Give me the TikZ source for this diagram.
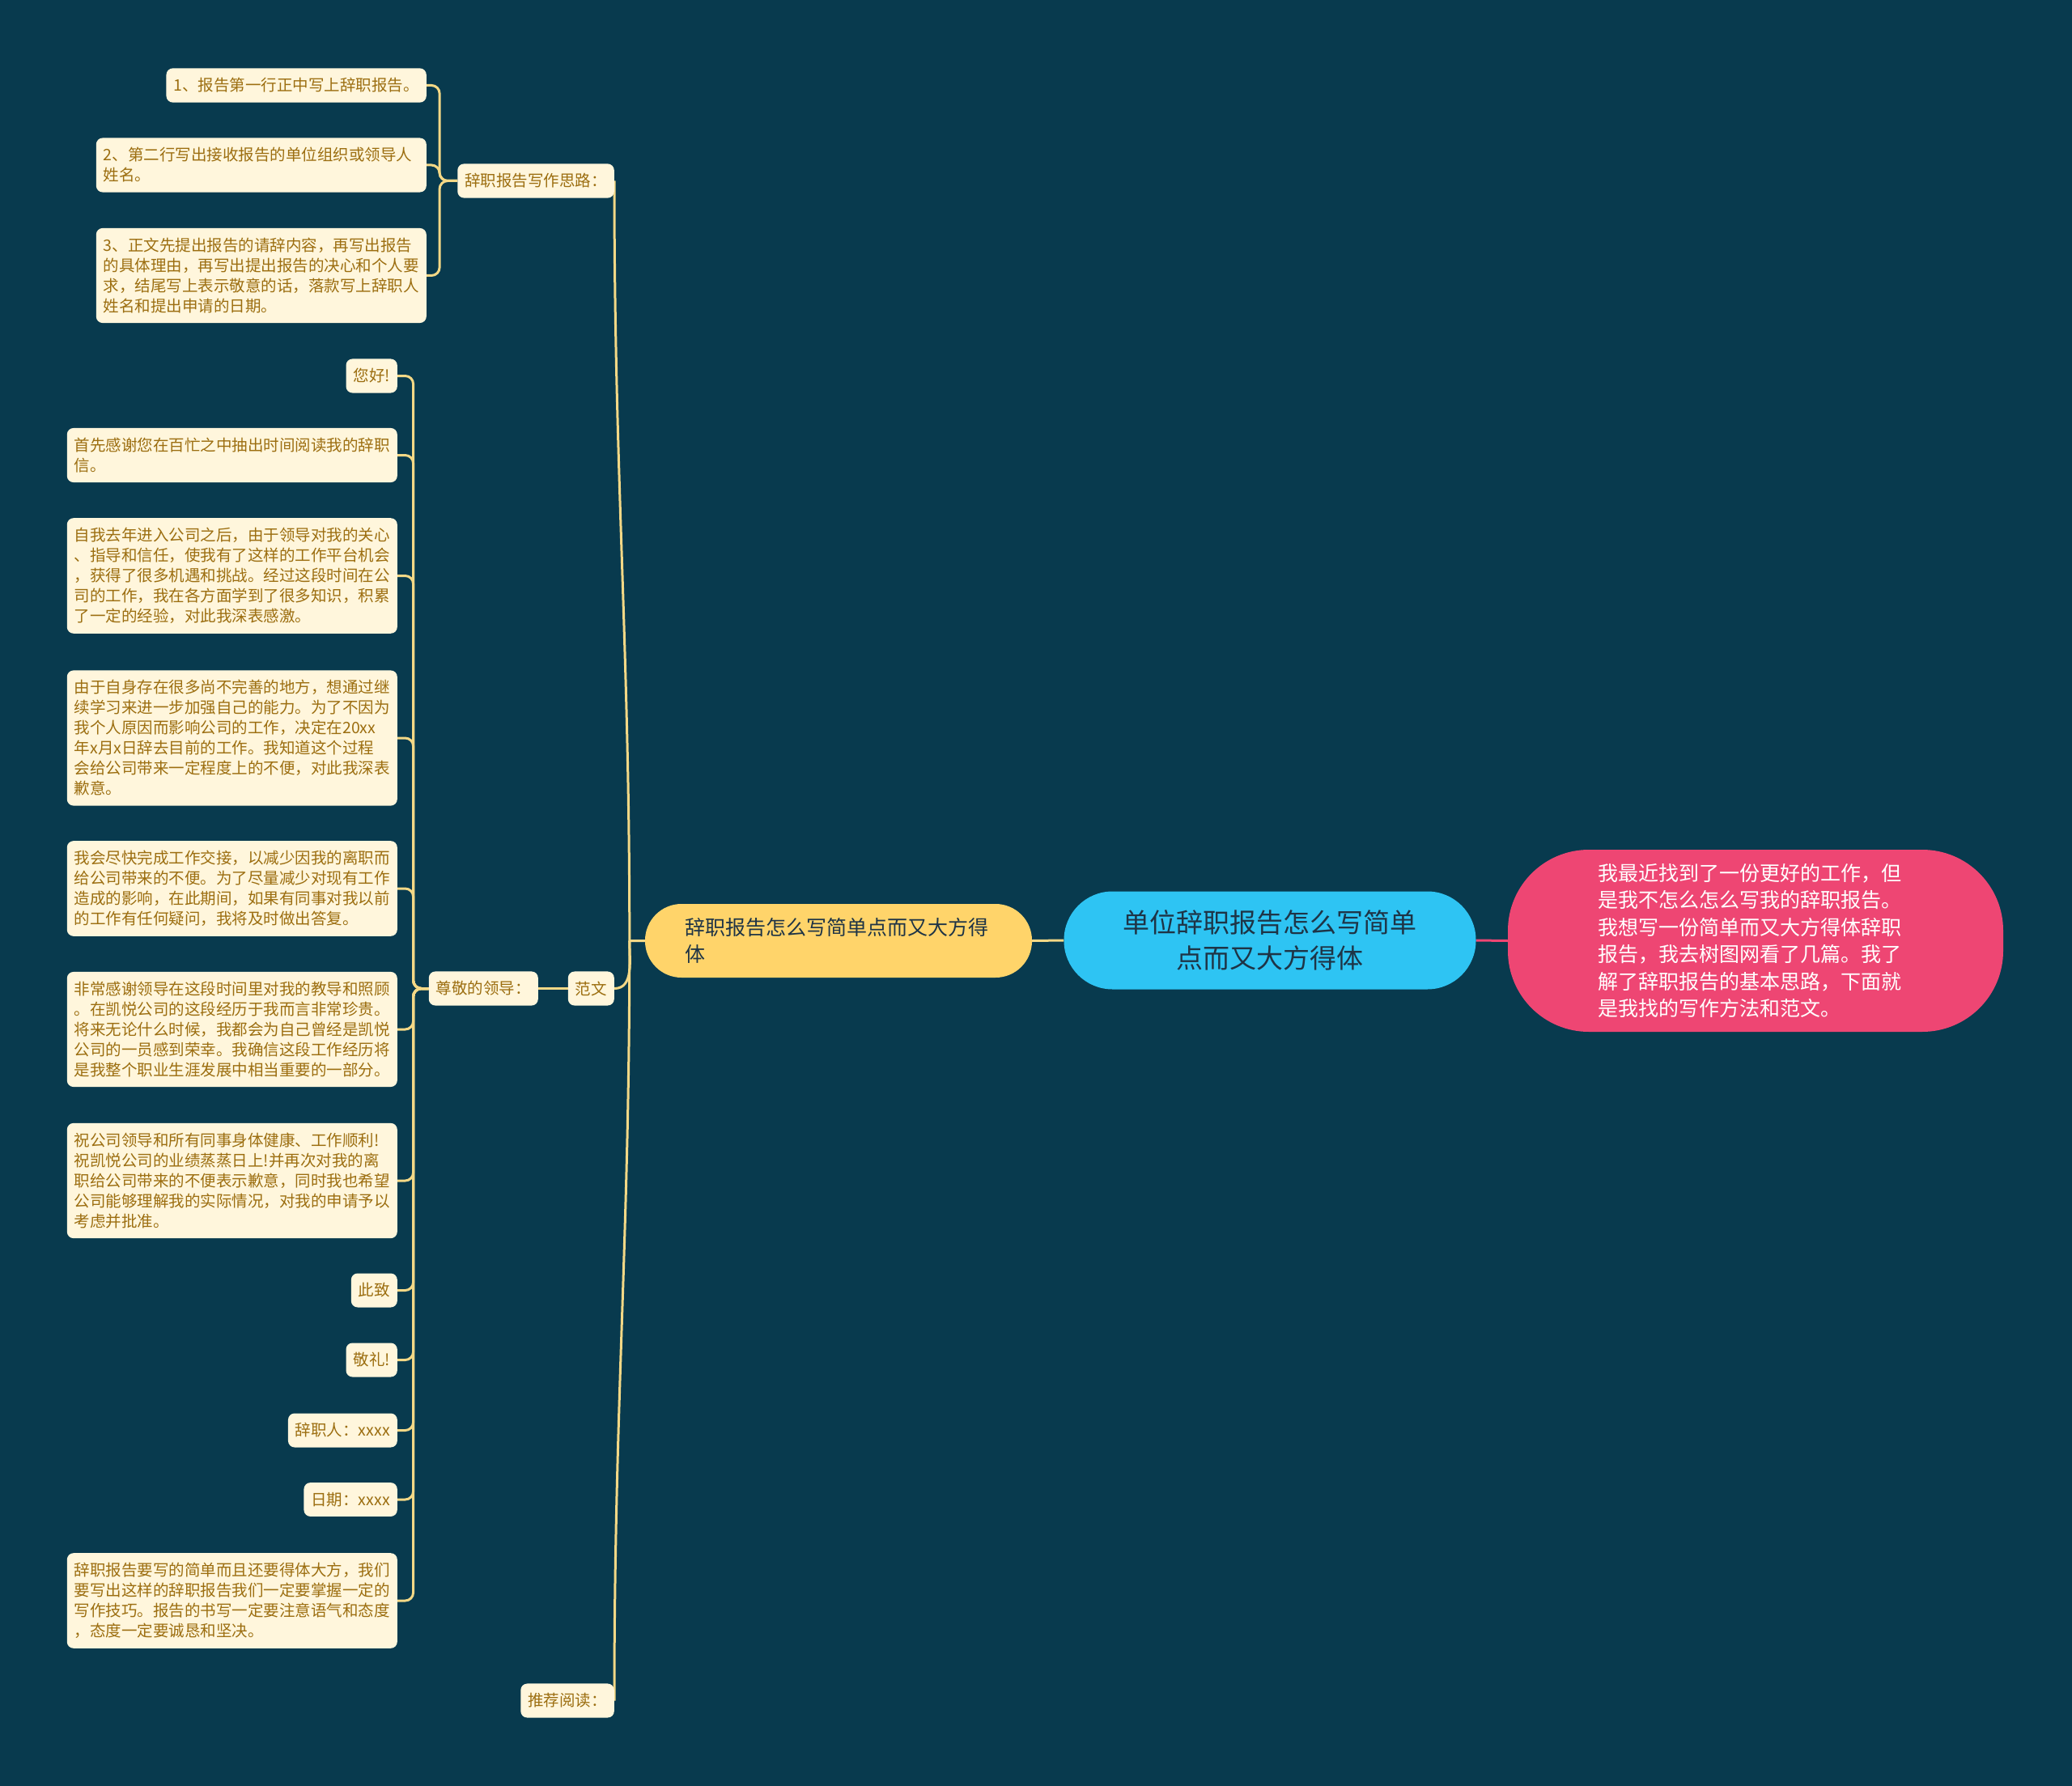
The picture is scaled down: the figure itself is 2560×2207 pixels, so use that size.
\documentclass[tikz,border=0pt]{standalone}
\usepackage{fontspec}
\setmainfont{Noto Sans CJK SC}
\usetikzlibrary{positioning}
\pgfdeclarelayer{background}
\pgfsetlayers{background,main}
\definecolor{bgblue}{HTML}{083A4E}
\definecolor{cream}{HTML}{FFF6DC}
\definecolor{gold}{HTML}{9C6E10}
\definecolor{sun}{HTML}{FFD46A}
\definecolor{sky}{HTML}{2EC4F3}
\definecolor{rose}{HTML}{EE4673}
\definecolor{wire}{HTML}{F3D886}
\definecolor{ink}{HTML}{1E3446}

\begin{document}
\begin{tikzpicture}[x=1pt,y=-1pt,
						leafnode/.style={fill=cream, text=gold, rounded corners=8pt, inner xsep=9pt, inner ysep=12pt, minimum height=41pt, font=\fontsize{19.5}{25}\selectfont, anchor=east},
						textnode/.style={leafnode, text width=390pt, align=left},
						link/.style={wire, line width=3pt, rounded corners=10pt},
						curve/.style={wire, line width=3pt},
						]
						\useasboundingbox (0,0) rectangle (2560,2207);
						%Nodes
						\node[fill=sky, text=ink, rounded corners=60pt, text width=365pt, align=center, inner xsep=72pt, minimum height=121pt, font=\fontsize{33}{44}\selectfont]
							(root) at (1569,1162) {单位辞职报告怎么写简单\\点而又大方得体};
						\node[fill=rose, text=white, rounded corners=100pt, text width=390pt, align=left, inner xsep=111pt, minimum height=225pt, font=\fontsize{25}{33.5}\selectfont]
							(summary) at (2169,1162.5) {我最近找到了一份更好的工作，但\\是我不怎么怎么写我的辞职报告。\\我想写一份简单而又大方得体辞职\\报告，我去树图网看了几篇。我了\\解了辞职报告的基本思路，下面就\\是我找的写作方法和范文。};
						\node[fill=sun, text=ink, rounded corners=45pt, text width=380pt, align=left, inner xsep=49pt, minimum height=91pt, font=\fontsize{25}{33}\selectfont]
							(branch) at (1036,1162.5) {辞职报告怎么写简单点而又大方得\\体};

						\node[leafnode]      (idea)   at (759,223.5)   {辞职报告写作思路：};
						\node[leafnode]      (sample) at (759,1221.5)  {范文};
						\node[leafnode]      (more)   at (759,2101.5)  {推荐阅读：};
						\node[leafnode]      (greet)  at (665,1221.5)  {尊敬的领导：};

						\node[leafnode]      (step1)  at (527,105.5)   {1、报告第一行正中写上辞职报告。};
						\node[textnode]      (step2)  at (527,204)     {2、第二行写出接收报告的单位组织或领导人\\姓名。};
						\node[textnode]      (step3)  at (527,340.5)   {3、正文先提出报告的请辞内容，再写出报告\\的具体理由，再写出提出报告的决心和个人要\\求，结尾写上表示敬意的话，落款写上辞职人\\姓名和提出申请的日期。};

						\node[leafnode]      (p1)     at (491,464.5)   {您好!};
						\node[textnode]      (p2)     at (491,562.5)   {首先感谢您在百忙之中抽出时间阅读我的辞职\\信。};
						\node[textnode]      (p3)     at (491,711.5)   {自我去年进入公司之后，由于领导对我的关心\\、指导和信任，使我有了这样的工作平台机会\\，获得了很多机遇和挑战。经过这段时间在公\\司的工作，我在各方面学到了很多知识，积累\\了一定的经验，对此我深表感激。};
						\node[textnode]      (p4)     at (491,912)     {由于自身存在很多尚不完善的地方，想通过继\\续学习来进一步加强自己的能力。为了不因为\\我个人原因而影响公司的工作，决定在20xx\\年x月x日辞去目前的工作。我知道这个过程\\会给公司带来一定程度上的不便，对此我深表\\歉意。};
						\node[textnode]      (p5)     at (491,1098)    {我会尽快完成工作交接，以减少因我的离职而\\给公司带来的不便。为了尽量减少对现有工作\\造成的影响，在此期间，如果有同事对我以前\\的工作有任何疑问，我将及时做出答复。};
						\node[textnode]      (p6)     at (491,1272)    {非常感谢领导在这段时间里对我的教导和照顾\\。在凯悦公司的这段经历于我而言非常珍贵。\\将来无论什么时候，我都会为自己曾经是凯悦\\公司的一员感到荣幸。我确信这段工作经历将\\是我整个职业生涯发展中相当重要的一部分。};
						\node[textnode]      (p7)     at (491,1459)    {祝公司领导和所有同事身体健康、工作顺利!\\祝凯悦公司的业绩蒸蒸日上!并再次对我的离\\职给公司带来的不便表示歉意，同时我也希望\\公司能够理解我的实际情况，对我的申请予以\\考虑并批准。};
						\node[leafnode]      (p8)     at (491,1594.5)  {此致};
						\node[leafnode]      (p9)     at (491,1680.5)  {敬礼!};
						\node[leafnode]      (p10)    at (491,1767.5)  {辞职人：xxxx};
						\node[leafnode]      (p11)    at (491,1853)    {日期：xxxx};
						\node[textnode]      (p12)    at (491,1978)    {辞职报告要写的简单而且还要得体大方，我们\\要写出这样的辞职报告我们一定要掌握一定的\\写作技巧。报告的书写一定要注意语气和态度\\，态度一定要诚恳和坚决。};

						\begin{pgfonlayer}{background}
						\fill[bgblue] (0,0) rectangle (2560,2207);
						%Lines
						\draw[curve] (root.west) -- (branch.east);
						\draw[rose, line width=3pt] (root.east) -- (summary.west);

						\coordinate (fork) at ([xshift=-19pt]branch.west);
						\draw[curve] (branch.west) -- (fork) to[out=90,in=-90] (idea.east);
						\draw[curve] (fork) to[out=-90,in=0] (sample.east);
						\draw[curve] (fork) to[out=-90,in=90] (more.east);
						\draw[curve] (sample.west) -- (greet.east);

						\draw[link] (idea.west) -- ++(-22,0) |- (step1.east);
						\draw[link] (idea.west) -- ++(-22,0) |- (step2.east);
						\draw[link] (idea.west) -- ++(-22,0) |- (step3.east);

						\foreach \k in {1,...,12}
							\draw[link] (greet.west) -- ++(-19,0) |- (p\k.east);
						\end{pgfonlayer}
					\end{tikzpicture}
\end{document}
